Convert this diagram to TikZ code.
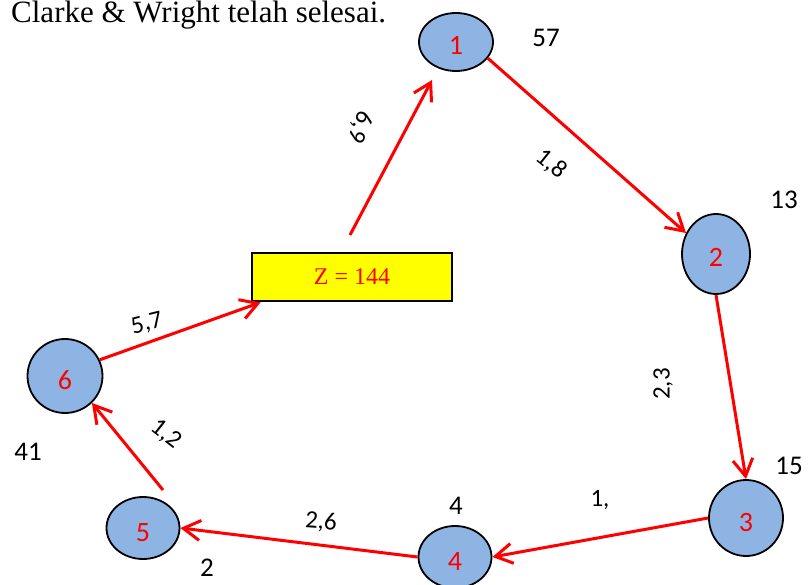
\documentclass[tikz,border=0pt]{standalone}
\usepackage{fontspec}
\setmainfont{Liberation Serif}
\newfontfamily\numfont{Carlito}
\usetikzlibrary{arrows.meta,shapes.geometric}
\definecolor{cityblue}{RGB}{142,180,227}
\definecolor{routered}{RGB}{255,0,0}
\definecolor{boxyellow}{RGB}{255,255,0}

\begin{document}
\begin{tikzpicture}[x=1pt, y=-1pt,
  city/.style={ellipse, draw=black, line width=1.8pt, fill=cityblue, inner sep=0pt,
    text=routered, text height=26pt, text depth=0pt, font=\numfont\fontsize{28}{28}\selectfont},
  route/.style={-{Straight Barb[length=17pt,width=20pt]}, routered, line width=3pt},
  weight/.style={inner sep=0pt, font=\numfont\fontsize{25}{25}\selectfont},
  demand/.style={inner sep=0pt, font=\numfont\fontsize{27}{27}\selectfont}]
  \useasboundingbox (0,0) rectangle (808,585);
  \node[anchor=base west, inner sep=0pt, font=\fontsize{31}{31}\selectfont] (title) at (11,23) {Clarke \& Wright telah selesai.};
  % customers
  \node[city, minimum width=74pt, minimum height=58pt] (n1) at (456,42) {1};
  \node[city, minimum width=68pt, minimum height=80pt] (n2) at (716,254) {2};
  \node[city, minimum width=74pt, minimum height=76pt] (n3) at (746,518) {3};
  \node[city, minimum width=73pt, minimum height=62pt] (n4) at (455,557) {4};
  \node[city, minimum width=73pt, minimum height=62pt] (n5) at (143,528) {5};
  \node[city, minimum width=75pt, minimum height=74pt] (n6) at (65,376) {6};
  % depot
  \node[draw=black, line width=2.8pt, fill=boxyellow, minimum width=200pt, minimum height=48pt,
    text=routered, font=\fontsize{24}{24}\selectfont] (depot) at (352,277) {Z = 144};
  % route
  \coordinate (zs) at (350,235);
  \coordinate (z1) at (432,80);
  \coordinate (s5) at (163,490);
  \draw[route] (zs) -- (z1);
  \draw[route] (n1.-27) -- (n2.145);
  \draw[route] (n2.south) -- (n3.north);
  \draw[route] (n3.west) -- (n4.east);
  \draw[route] (n4.west) -- (n5.east);
  \draw[route] (s5) -- (n6.-45);
  \draw[route] (n6.25) -- ([xshift=10pt]depot.south west);
  % distances
  \node[weight, rotate=-112] (w1) at (360,127) {6,9};
  \node[weight, rotate=-39] (w2) at (551,164) {1,8};
  \node[weight, rotate=90] (w3) at (663,384) {2,3};
  \node[weight] (w4) at (600,500) {1,};
  \node[weight, rotate=-4] (w5) at (321,522) {2,6};
  \node[weight, rotate=-38] (w6) at (166,434) {1,2};
  \node[weight, rotate=14] (w7) at (147,324) {5,7};
  % demands
  \node[demand] (d1) at (546,38) {57};
  \node[demand] (d2) at (784,200) {13};
  \node[demand] (d3) at (789,466) {15};
  \node[demand] (d4) at (456,506) {4};
  \node[demand] (d5) at (207,568) {2};
  \node[demand] (d6) at (28,452) {41};
\end{tikzpicture}
\end{document}
